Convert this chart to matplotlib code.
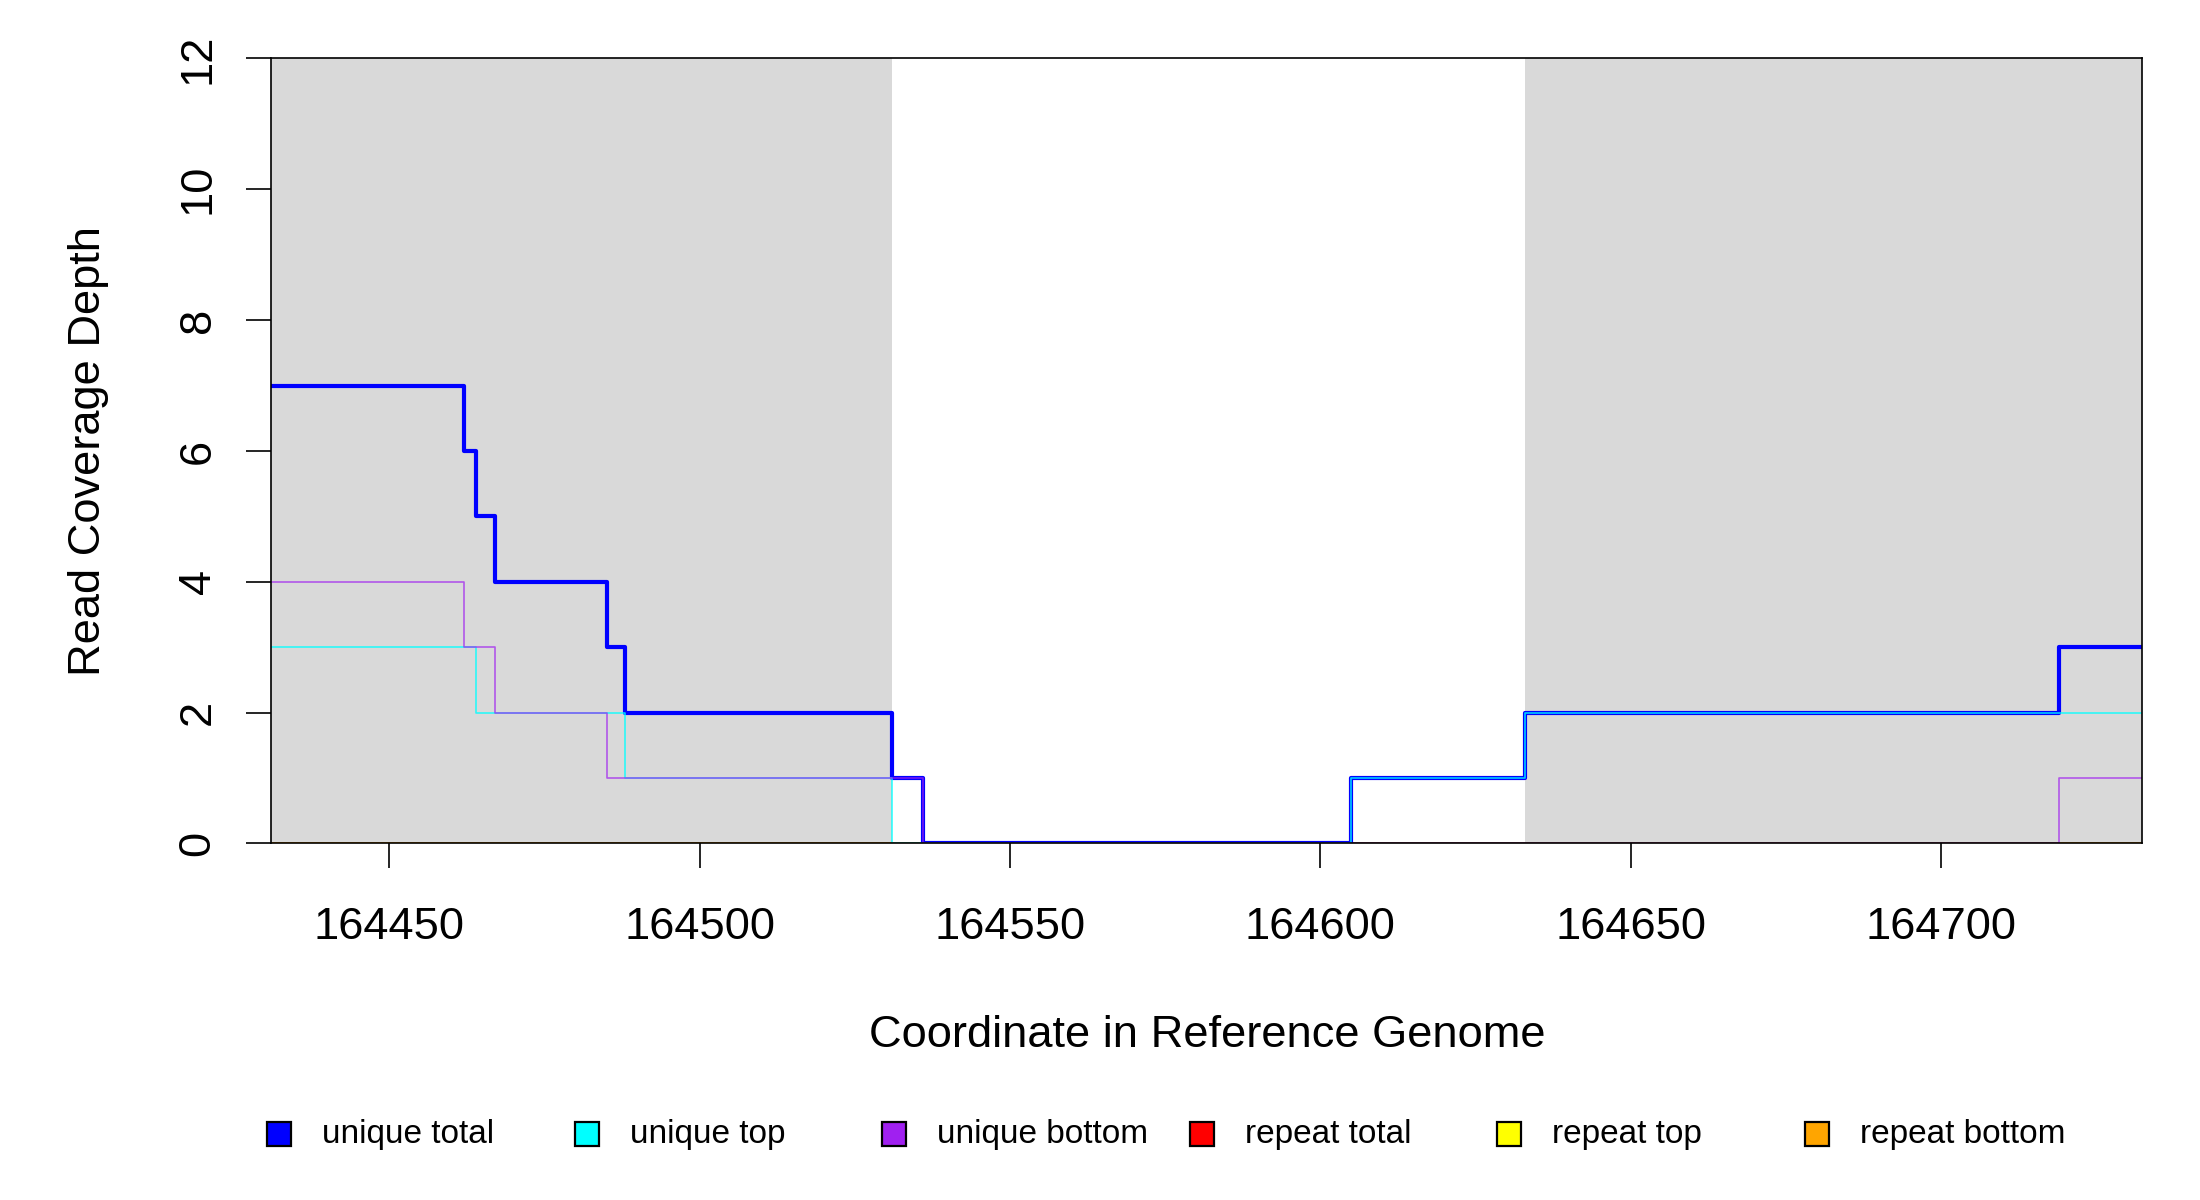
import matplotlib.pyplot as plt
from matplotlib.patches import Rectangle

plt.rcParams["font.family"] = ["Liberation Sans", "DejaVu Sans"]

# Coverage steps: value holds from each break up to the next one
breaks = [164431, 164462, 164464, 164467, 164485, 164488,
          164531, 164536, 164605, 164633, 164719, 164732.4]
unique_total = [7, 6, 5, 4, 3, 2, 1, 0, 1, 2, 3]
unique_top = [3, 3, 2, 2, 2, 1, 0, 0, 1, 2, 2]
unique_bottom = [4, 3, 3, 2, 1, 1, 1, 0, 0, 0, 1]
repeat_total = [0] * 11
repeat_top = [0] * 11
repeat_bottom = [0] * 11

# shaded (gray) regions
shade_regions = [(164431, 164531), (164633, 164732.4)]

x_ticks = [164450, 164500, 164550, 164600, 164650, 164700]
y_ticks = [0, 2, 4, 6, 8, 10, 12]

legend_names = ["unique total", "unique top", "unique bottom",
                "repeat total", "repeat top", "repeat bottom"]
legend_colors = ["#0000FF", "#00FFFF", "#A020F0", "#FF0000", "#FFFF00", "#FFA500"]

fig = plt.figure(figsize=(11, 6), dpi=200)
ax = fig.add_axes([0.1234, 0.2971, 0.8503, 0.6542])

for start, end in shade_regions:
    ax.axvspan(start, end, color="#D9D9D9", lw=0, zorder=0)


def steps(vals):
    return vals + [vals[-1]]


# repeat series first, then unique ones on top
ax.step(breaks, steps(repeat_total), where="post", color="#FF0000", lw=1.0, alpha=0.6, zorder=2)
ax.step(breaks, steps(repeat_top), where="post", color="#FFFF00", lw=1.0, alpha=0.5, zorder=2)
ax.step(breaks, steps(repeat_bottom), where="post", color="#FFA500", lw=1.0, alpha=0.85, zorder=2)
ax.step(breaks, steps(unique_total), where="post", color="#0000FF", lw=1.5, zorder=3)
ax.step(breaks, steps(unique_top), where="post", color="#00FFFF", lw=0.6, alpha=0.8, zorder=4)
ax.step(breaks, steps(unique_bottom), where="post", color="#A020F0", lw=0.6, alpha=0.7, zorder=4)

ax.set_xlim(breaks[0], breaks[-1])
ax.set_ylim(0, 12)
ax.set_xticks(x_ticks)
ax.set_xticklabels([str(t) for t in x_ticks], fontsize=16.3)
ax.set_yticks(y_ticks)
ax.set_yticklabels([str(t) for t in y_ticks], fontsize=16.3, rotation=90, va="center")
ax.tick_params(axis="both", length=9, width=0.6)
ax.tick_params(axis="x", pad=14)
ax.tick_params(axis="y", pad=10)

for s in ax.spines.values():
    s.set_linewidth(0.6)
    s.set_color("black")
    s.set_zorder(5)

ax.set_xlabel("Coordinate in Reference Genome", fontsize=16.3)
ax.xaxis.set_label_coords(0.5, -0.218)
ax.set_ylabel("Read Coverage Depth", fontsize=16.3)
ax.yaxis.set_label_coords(-0.0868, 0.5)

# legend row below the plot
box_w = 24 / 2200
box_h = 24 / 1200
for i, (name, col) in enumerate(zip(legend_names, legend_colors)):
    cx = (279.4 + i * 307.5) / 2200
    cy = 1 - 1134 / 1200
    fig.add_artist(Rectangle((cx - box_w / 2, cy - box_h / 2), box_w, box_h,
                             facecolor=col, edgecolor="black", lw=0.8,
                             transform=fig.transFigure))
    fig.text(cx + 43 / 2200, cy, name, fontsize=12, va="center", ha="left")

fig.savefig("out.png", dpi=200)
